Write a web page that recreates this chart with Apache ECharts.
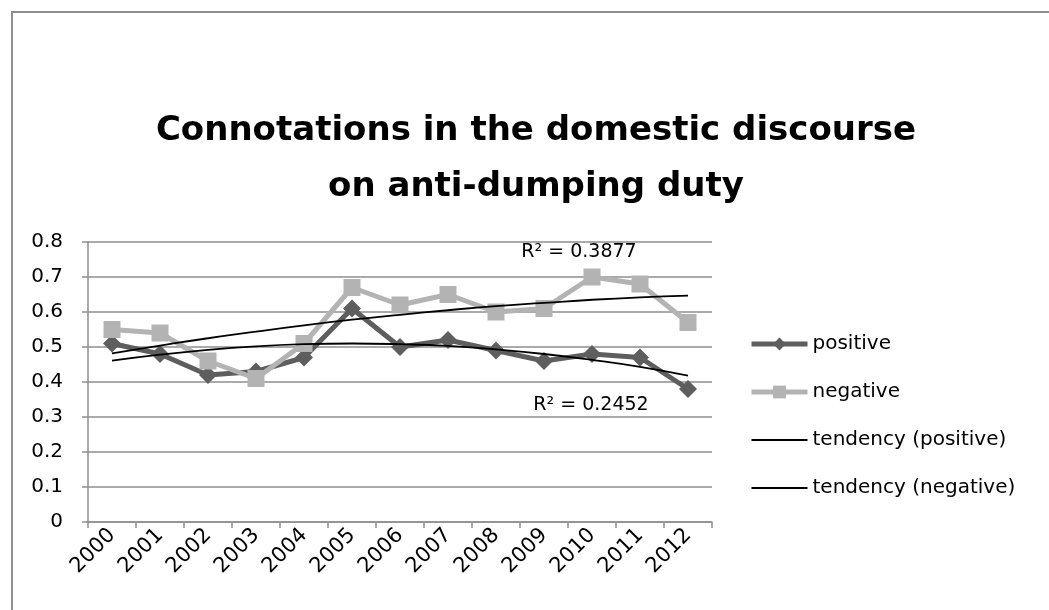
<!DOCTYPE html>
<html>
<head>
<meta charset="utf-8">
<script src="https://cdn.jsdelivr.net/npm/echarts@6/dist/echarts.min.js"></script>
<style>
  html, body { margin: 0; padding: 0; background: #ffffff; }
  #chart { width: 1049px; height: 610px; }
</style>
</head>
<body>
<div id="chart"></div>
<script>
// Years on the category axis
const years = ['2000', '2001', '2002', '2003', '2004', '2005', '2006',
               '2007', '2008', '2009', '2010', '2011', '2012'];

// Share of connotations per year
const positive = [0.51, 0.48, 0.42, 0.43, 0.47, 0.61, 0.50, 0.52, 0.49, 0.46, 0.48, 0.47, 0.38];
const negative = [0.55, 0.54, 0.46, 0.41, 0.51, 0.67, 0.62, 0.65, 0.60, 0.61, 0.70, 0.68, 0.57];

// Trend curves, one value per year
const tendencyPositive = [0.461, 0.478, 0.492, 0.502, 0.508, 0.510, 0.508, 0.503, 0.493, 0.480, 0.463, 0.443, 0.418];
const tendencyNegative = [0.482, 0.504, 0.525, 0.544, 0.562, 0.578, 0.592, 0.605, 0.617, 0.626, 0.635, 0.642, 0.647];

// Fit quality of each trend
const r2Positive = 'R² = 0.2452';
const r2Negative = 'R² = 0.3877';

// Value-axis ticks
const yTicks = [0, 0.1, 0.2, 0.3, 0.4, 0.5, 0.6, 0.7, 0.8];

const titleLines = ['Connotations in the domestic discourse', 'on anti-dumping duty'];

const FONT = '"DejaVu Sans", sans-serif';
const GRID_GREY = '#8e8e8e';
const DARK = '#5e5e5e';
const LIGHT = '#b3b3b3';

const chart = echarts.init(document.getElementById('chart'), null, { renderer: 'canvas' });

chart.setOption({
  backgroundColor: '#ffffff',
  animation: false,
  textStyle: { fontFamily: FONT },
  graphic: [
    {
      type: 'rect',
      shape: { x: 12, y: 12, width: 1100, height: 700 },
      style: { fill: 'none', stroke: GRID_GREY, lineWidth: 2 },
      silent: true
    },
    {
      type: 'text',
      x: 536, y: 131,
      style: {
        text: titleLines[0], fill: '#000000',
        font: 'bold 34px ' + FONT, align: 'center', verticalAlign: 'middle'
      }
    },
    {
      type: 'text',
      x: 536, y: 187,
      style: {
        text: titleLines[1], fill: '#000000',
        font: 'bold 34px ' + FONT, align: 'center', verticalAlign: 'middle'
      }
    },
    {
      type: 'text',
      x: 579, y: 252, z: 50,
      style: {
        text: r2Negative, fill: '#000000',
        font: '19px ' + FONT, align: 'center', verticalAlign: 'middle'
      }
    },
    {
      type: 'text',
      x: 591, y: 405, z: 50,
      style: {
        text: r2Positive, fill: '#000000',
        font: '19px ' + FONT, align: 'center', verticalAlign: 'middle'
      }
    }
  ],
  grid: { left: 88, right: 337, top: 242, bottom: 88, containLabel: false },
  legend: {
    orient: 'vertical',
    left: 744,
    top: 327,
    itemWidth: 56,
    itemHeight: 16,
    itemGap: 24,
    textStyle: { fontFamily: FONT, fontSize: 20, color: '#000000', lineHeight: 24 },
    data: [
      { name: 'positive', lineStyle: { width: 5 } },
      { name: 'negative', lineStyle: { width: 5 } },
      { name: 'tendency (positive)', itemStyle: { opacity: 0 }, lineStyle: { width: 1.8 } },
      { name: 'tendency (negative)', itemStyle: { opacity: 0 }, lineStyle: { width: 1.8 } }
    ]
  },
  xAxis: {
    type: 'category',
    data: years,
    boundaryGap: true,
    axisLine: { lineStyle: { color: GRID_GREY, width: 1.5 } },
    axisTick: { show: true, length: 6, lineStyle: { color: GRID_GREY, width: 1.5 } },
    axisLabel: {
      rotate: 45, margin: 10, interval: 0,
      fontFamily: FONT, fontSize: 21, color: '#000000'
    },
    splitLine: { show: false }
  },
  yAxis: {
    type: 'value',
    min: yTicks[0],
    max: yTicks[yTicks.length - 1],
    interval: 0.1,
    axisLine: { show: true, lineStyle: { color: GRID_GREY, width: 1.5 } },
    axisTick: { show: true, length: 6, lineStyle: { color: GRID_GREY, width: 1.5 } },
    axisLabel: {
      margin: 25, fontFamily: FONT, fontSize: 20, color: '#000000',
      formatter: v => String(Math.round(v * 10) / 10)
    },
    splitLine: { show: true, lineStyle: { color: GRID_GREY, width: 1.5 } }
  },
  series: [
    {
      name: 'positive',
      type: 'line',
      data: positive,
      z: 3,
      symbol: 'diamond',
      symbolSize: 18,
      lineStyle: { color: DARK, width: 5 },
      itemStyle: { color: DARK, borderWidth: 0 }
    },
    {
      name: 'negative',
      type: 'line',
      data: negative,
      z: 4,
      symbol: 'rect',
      symbolSize: 17,
      lineStyle: { color: LIGHT, width: 5 },
      itemStyle: { color: LIGHT, borderWidth: 0 }
    },
    {
      name: 'tendency (positive)',
      type: 'line',
      data: tendencyPositive,
      z: 10,
      smooth: true,
      symbol: 'none',
      lineStyle: { color: '#000000', width: 1.8 },
      itemStyle: { color: '#000000' }
    },
    {
      name: 'tendency (negative)',
      type: 'line',
      data: tendencyNegative,
      z: 10,
      smooth: true,
      symbol: 'none',
      lineStyle: { color: '#000000', width: 1.8 },
      itemStyle: { color: '#000000' }
    }
  ]
});
</script>
</body>
</html>
